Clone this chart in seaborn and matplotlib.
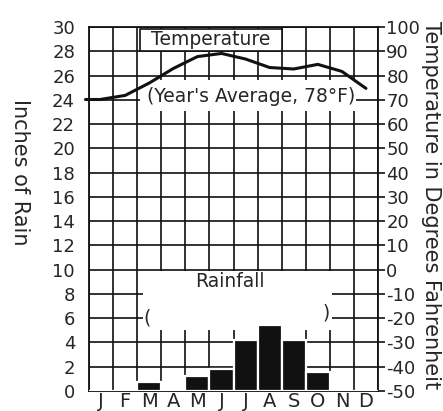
import matplotlib
matplotlib.use("Agg")
import matplotlib.pyplot as plt
import seaborn as sns
import pandas as pd
import numpy as np
from matplotlib.patches import Rectangle

months = ["Jan", "Feb", "Mar", "Apr", "May", "Jun",
          "Jul", "Aug", "Sep", "Oct", "Nov", "Dec"]
month_letters = ["J", "F", "M", "A", "M", "J", "J", "A", "S", "O", "N", "D"]
rainfall_in = [0, 0, 0.7, 0, 1.2, 1.8, 4.2, 5.4, 4.2, 1.6, 0, 0]
temperature_f = [70.2, 71.8, 76.9, 82.9, 87.8, 89.1, 86.8, 83.3, 82.7, 84.6, 81.7, 74.7]
rain_ticks = list(range(0, 31, 2))
temp_ticks = list(range(-50, 101, 10))

sns.set_style("white")
plt.rcParams["font.family"] = ["DejaVu Sans"]

df = pd.DataFrame({"month": months, "rain": rainfall_in, "temp": temperature_f})

fig = plt.figure(figsize=(4.43, 4.11), dpi=100)
ax = fig.add_axes([0.2009, 0.0487, 0.6524, 0.8856])

sns.barplot(data=df, x="month", y="rain", order=months, color="#111111",
            saturation=1, width=1.0, edgecolor="white", linewidth=1.6,
            ax=ax, zorder=3)

ax.set_xlim(-0.5, 11.5)
ax.set_ylim(0, 30)
ax.set_yticks(rain_ticks)
ax.set_yticklabels([str(t) for t in rain_ticks])
ax.set_xticks(range(12))
ax.set_xticklabels(month_letters)
ax.set_xticks(np.arange(-0.5, 12, 1), minor=True)
ax.set_axisbelow(True)
ax.grid(which="minor", axis="x", color="#111111", lw=1.2)
ax.grid(which="major", axis="y", color="#111111", lw=1.2)
ax.grid(which="major", axis="x", visible=False)
ax.tick_params(axis="y", which="both", length=0, pad=10, labelsize=13)
ax.tick_params(axis="x", which="both", length=0, pad=1, labelsize=14)
ax.set_xlabel("")
ax.set_ylabel("")
for s in ax.spines.values():
    s.set_color("#111111")
    s.set_linewidth(1.3)

# white label areas that interrupt the grid
ax.add_patch(Rectangle((1.625, 28.0), 5.9, 1.85, facecolor="white",
                       edgecolor="#111111", lw=1.2, zorder=2))
ax.text(4.55, 28.95, "Temperature", ha="center", va="center", fontsize=13.5, zorder=4)
ax.add_patch(Rectangle((1.6, 23.1), 9.0, 2.5, facecolor="white",
                       edgecolor="none", zorder=2))
ax.text(6.25, 24.25, "(Year's Average, 78°F)", ha="center", va="center",
        fontsize=13.5, zorder=4)
ax.add_patch(Rectangle((1.75, 5.0), 7.85, 4.9, facecolor="white",
                       edgecolor="none", zorder=2))
ax.text(5.35, 9.0, "Rainfall", ha="center", va="center", fontsize=13.5, zorder=4)
ax.text(1.9, 6.0, "(", ha="center", va="center", fontsize=13.5, zorder=4)
ax.text(9.33, 6.4, ")", ha="center", va="center", fontsize=13.5, zorder=4)

ax2 = ax.twinx()
ax2.set_ylim(-50, 100)
ax2.plot([-0.67, 0], [temperature_f[0], temperature_f[0]], color="#111111", lw=2.2,
         solid_capstyle="round", clip_on=False)
sns.lineplot(x=list(range(12)), y=temperature_f, ax=ax2, color="#111111", lw=2.2)
ax2.set_yticks(temp_ticks)
ax2.set_yticklabels([str(t) for t in temp_ticks])
ax2.tick_params(axis="y", length=5, width=1.2, direction="out", pad=1,
                labelsize=13, color="#111111")
ax2.set_ylabel("")
ax2.grid(False)
for s in ax2.spines.values():
    s.set_visible(False)

fig.text(20 / 443, 1 - 172 / 411, "Inches of Rain", rotation=270,
         ha="center", va="center", fontsize=15)
fig.text(431 / 443, 1 - 205 / 411, "Temperature in Degrees Fahrenheit", rotation=270,
         ha="center", va="center", fontsize=15)

fig.savefig("out.png", dpi=100)
